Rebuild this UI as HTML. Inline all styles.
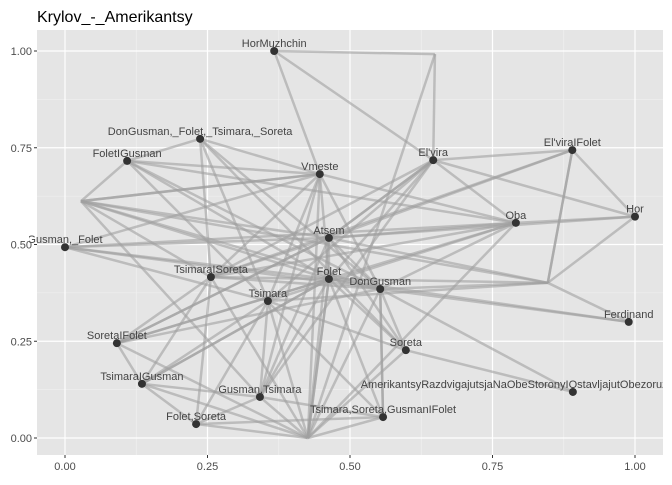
<!DOCTYPE html>
<html><head><meta charset="utf-8"><style>
body{margin:0;background:#fff;font-family:"Liberation Sans",sans-serif}
</style></head><body>
<svg id="chart" width="672" height="480" xmlns="http://www.w3.org/2000/svg">
<defs><clipPath id="pc"><rect x="29" y="30" width="634" height="425"/></clipPath></defs>
<text x="37" y="22" font-size="16" fill="#000">Krylov_-_Amerikantsy</text>
<rect x="37" y="30" width="626" height="425" fill="#e5e5e5"/>
<g id="grid"></g><g id="edges" clip-path="url(#pc)"></g><g id="nodes" clip-path="url(#pc)"></g><g id="axes"></g>
</svg>
<script>
const nodeNames=["HorMuzhchin","DonGusman,_Folet,_Tsimara,_Soreta","FoletIGusman","Vmeste","Atsem","Gusman,_Folet","","","El'vira","El'viraIFolet","Hor","Oba","TsimaraISoreta","Folet","Tsimara","SoretaIFolet","TsimaraIGusman","Gusman,Tsimara","Folet,Soreta","","DonGusman","","Ferdinand","Soreta","AmerikantsyRazdvigajutsjaNaObeStoronyIOstavljajutObezoruzhennogoGusmanaPistol","Tsimara,Soreta,GusmanIFolet"];
const nodeX=[0.367,0.237,0.109,0.447,0.463,0,0.028,0.649,0.646,0.89,1.0,0.791,0.256,0.463,0.356,0.091,0.135,0.342,0.23,0.426,0.553,0.847,0.989,0.598,0.891,0.558];
const nodeY=[1.0,0.773,0.716,0.682,0.517,0.493,0.612,0.992,0.718,0.744,0.572,0.556,0.416,0.411,0.354,0.245,0.140,0.106,0.036,0.0,0.385,0.401,0.300,0.227,0.119,0.054];
const edgeFrom=[0,0,0,7,7,8,9,8,8,9,21,21,21,21,21,21,21,21,20,20,20,23,13,1,1,1,1,1,1,2,2,2,2,2,2,3,3,3,3,3,3,3,3,4,4,4,4,4,4,4,4,5,5,5,5,5,6,6,6,6,6,12,12,12,12,12,12,12,13,13,13,13,13,14,14,14,14,14,15,15,15,15,15,16,16,16,16,17,17,17,18,18,19,19,19,19,20,20,20,8,8,8,8,8,11,11,11,11,23,25,9,9,10,4,6,5];
const edgeTo=[7,8,3,8,19,9,10,10,11,21,10,22,20,13,4,6,14,9,24,22,25,24,22,3,2,12,14,20,23,3,6,13,20,25,11,13,20,14,12,6,11,19,17,13,20,11,12,17,19,8,15,13,11,14,20,4,4,13,20,17,12,16,18,15,19,20,13,11,20,15,16,19,17,16,17,18,19,23,16,20,19,13,4,17,18,19,13,18,19,25,19,25,13,20,23,25,23,25,11,4,13,12,14,17,13,14,10,19,13,13,12,4,4,23,3,3];
const X=v=>65+v*570, Y=v=>438-v*387;
const svg=document.getElementById('chart'),NS="http://www.w3.org/2000/svg";
function mk(t,a,p){const e=document.createElementNS(NS,t);for(const k in a)e.setAttribute(k,a[k]);p.appendChild(e);return e;}
const grid=document.getElementById('grid'),ax=document.getElementById('axes');
const xt=[0,0.25,0.5,0.75,1],xl=["0.00","0.25","0.50","0.75","1.00"];
[0.125,0.375,0.625,0.875].forEach(v=>{mk('line',{x1:X(v),x2:X(v),y1:30,y2:455,stroke:'#f2f2f2','stroke-width':0.6},grid);mk('line',{x1:37,x2:663,y1:Y(v),y2:Y(v),stroke:'#f2f2f2','stroke-width':0.6},grid);});
xt.forEach((v,i)=>{
let g=mk('line',{x1:X(v),x2:X(v),y1:30,y2:455,stroke:'#fff','stroke-width':1.2},grid);

let h=mk('line',{x1:37,x2:663,y1:Y(v),y2:Y(v),stroke:'#fff','stroke-width':1.2},grid);

mk('line',{x1:X(v),x2:X(v),y1:455,y2:458,stroke:'#333'},ax);
mk('line',{x1:34,x2:37,y1:Y(v),y2:Y(v),stroke:'#333'},ax);
let a=mk('text',{x:X(v),y:470,'font-size':11,fill:'#4d4d4d','text-anchor':'middle'},ax);a.textContent=xl[i];

let b=mk('text',{x:32,y:Y(v)+4,'font-size':11,fill:'#4d4d4d','text-anchor':'end'},ax);b.textContent=xl[i];

});
const eg=document.getElementById('edges');
edgeFrom.forEach((f,i)=>{const t=edgeTo[i];
const l=mk('line',{x1:X(nodeX[f]),y1:Y(nodeY[f]),x2:X(nodeX[t]),y2:Y(nodeY[t]),stroke:'#a0a0a0','stroke-opacity':0.6,'stroke-width':2.5},eg);

});
const ng=document.getElementById('nodes');
nodeNames.forEach((n,i)=>{if(!n)return;
const c=mk('circle',{cx:X(nodeX[i]),cy:Y(nodeY[i]),r:4,fill:'#333'},ng);


const t=mk('text',{x:X(nodeX[i]),y:Y(nodeY[i])-4,'font-size':11,fill:'#444','text-anchor':'middle'},ng);t.textContent=n;

});
</script>
</body></html>
